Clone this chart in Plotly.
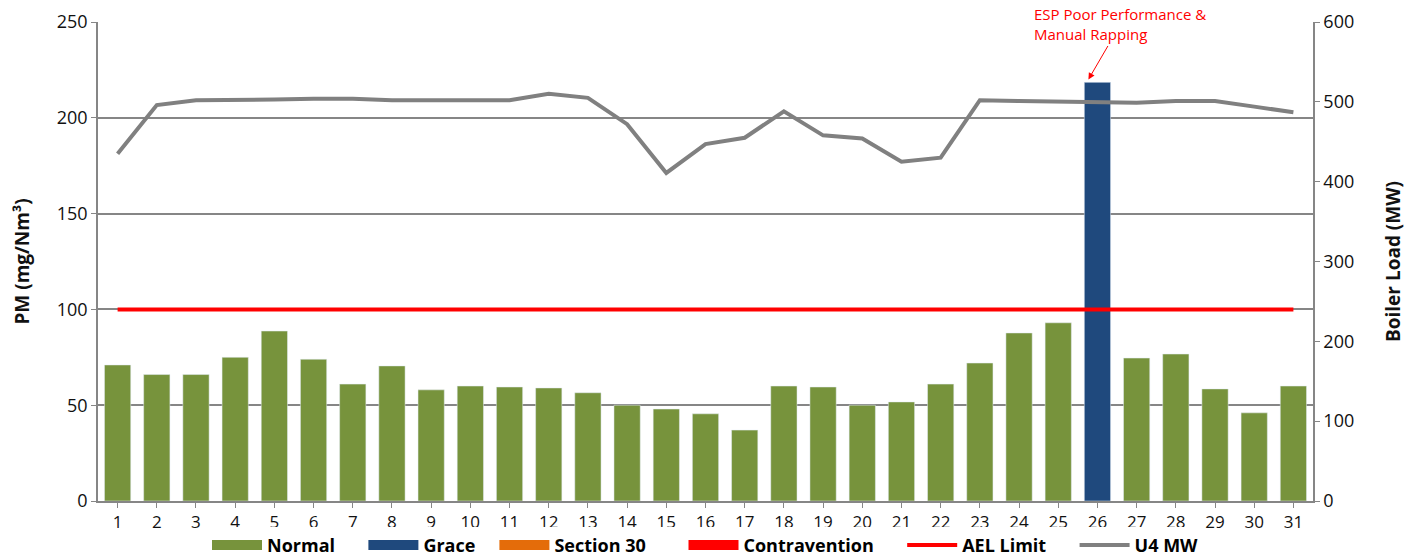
import plotly.graph_objects as go

days = list(range(1, 32))
normal = [71, 66, 66, 75, 88.7, 74, 61, 70.5, 58, 60, 59.5, 59, 56.5, 50, 48, 45.5, 37,
          60, 59.5, 50, 51.7, 61, 72, 87.7, 93, None, 74.6, 76.7, 58.5, 46, 60]
grace = [None] * 25 + [218.5] + [None] * 5
section30 = [None] * 31
contravention = [None] * 31
ael_limit = [100] * 31
u4_mw = [435, 496, 502, 502, 503, 504, 504, 502, 502, 502, 502, 510, 505, 472, 411, 447,
         455, 488, 458, 454, 425, 430, 502, 501, 500.5, 500.5, 499, 501, 501, 494, 487]

FONT = "Open Sans"
NB = "\u00a0"
bar_series = [("Normal", normal, "#77933C", 5), ("Grace", grace, "#1F497D", 3),
              ("Section 30", section30, "#E46C0A", 7),
              ("Contravention", contravention, "#FF0000", 5)]

fig = go.Figure()
for name, vals, col, pad in bar_series:
    fig.add_trace(go.Bar(x=days, y=vals, name=name, marker_color=col, showlegend=False,
                         legendgroup=name))
# legend entries drawn as wide colour blocks, like the original
for name, vals, col, pad in bar_series:
    fig.add_trace(go.Scatter(x=[None], y=[None], name=f"<b>{name}</b>" + NB * pad,
                             mode="lines", line=dict(color=col, width=14), legendgroup=name))
fig.add_trace(go.Scatter(x=days, y=ael_limit, name="<b>AEL Limit</b>" + NB * 5, mode="lines",
                         line=dict(color="#FF0000", width=4)))
fig.add_trace(go.Scatter(x=days, y=u4_mw, name="<b>U4 MW</b>", mode="lines", yaxis="y2",
                         line=dict(color="#808080", width=4)))

fig.add_annotation(x=25.77, y=220, xref="x", yref="y",
                   text="ESP Poor Performance &amp;<br>Manual Rapping", align="left",
                   font=dict(family=FONT, size=15, color="#FF0000"),
                   showarrow=True, arrowhead=2, arrowsize=1.3, arrowwidth=1,
                   arrowcolor="#FF0000", ax=32, ay=-55)

fig.update_layout(
    width=1422, height=559,
    margin=dict(l=98, r=109, t=22, b=58, autoexpand=False),
    plot_bgcolor="white", paper_bgcolor="white",
    barmode="overlay", bargap=0.33,
    font=dict(family=FONT, size=18, color="#111111"),
    xaxis=dict(tickmode="array", tickvals=days, range=[0.5, 31.5],
               showline=True, linecolor="#868686", linewidth=1.5,
               ticks="outside", ticklen=5, tickcolor="#868686",
               tickfont=dict(size=17), showgrid=False, automargin=False),
    yaxis=dict(range=[0, 250], dtick=50, showgrid=True, gridcolor="#868686",
               gridwidth=1.5, showline=True, linecolor="#868686", linewidth=1.5,
               ticks="outside", ticklen=5, tickcolor="#868686", automargin=False,
               title=dict(text="<b>PM (mg/Nm³)</b>", font=dict(size=19), standoff=22),
               tickfont=dict(size=18), zeroline=False),
    yaxis2=dict(range=[0, 600], dtick=100, overlaying="y", side="right",
                showgrid=False, showline=True, linecolor="#868686", linewidth=1.5,
                ticks="outside", ticklen=5, tickcolor="#868686", automargin=False,
                title=dict(text="<b>Boiler Load (MW)</b>", font=dict(size=19), standoff=33),
                tickfont=dict(size=18), zeroline=False),
    legend=dict(orientation="h", x=0.5, xanchor="center", y=-0.054, yanchor="top",
                font=dict(size=18, family=FONT, color="#000000"), traceorder="normal",
                itemwidth=50),
)

fig.write_html("out.html", config={"displayModeBar": False},
               post_script="document.body.style.margin='0';"
                           "document.documentElement.style.overflow='hidden';")
